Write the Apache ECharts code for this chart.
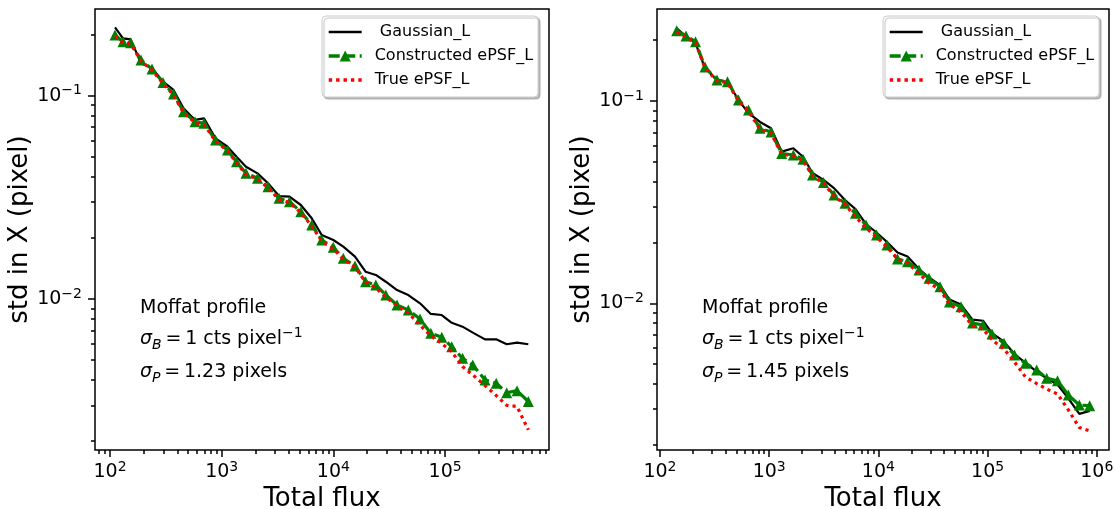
<!DOCTYPE html>
<html><head><meta charset="utf-8">
<script src="https://cdn.jsdelivr.net/npm/echarts@6/dist/echarts.min.js"></script>
<style>html,body{margin:0;padding:0;background:#fff}#c{width:1115px;height:509px}</style>
</head><body><div id="c"></div>
<script>
const FONT = 'DejaVu Sans';
const seriesNames = [' Gaussian_L', 'Constructed ePSF_L', 'True ePSF_L'];

// ---- left panel (sigma_P = 1.23) ----
const fluxLeft = [110.9, 130.7, 153.2, 189.5, 237.7, 298.3, 370.3, 455, 576.8, 694.2, 879.8, 1127, 1357, 1650, 2092, 2597, 3258, 4046, 5107, 6393, 7859, 9979, 12260, 15610, 19390, 23970, 29450, 37100, 46820, 59620, 74470, 93250, 114600, 143200, 177000, 227600, 286700, 356000, 440300, 555800];
const gaussLeft = [0.2170, 0.1916, 0.1894, 0.1443, 0.1364, 0.1172, 0.1067, 0.0867, 0.0760, 0.0774, 0.0617, 0.0561, 0.0501, 0.0447, 0.0415, 0.0371, 0.0321, 0.0319, 0.0290, 0.02494, 0.02064, 0.01951, 0.01809, 0.01615, 0.01362, 0.01313, 0.01216, 0.01107, 0.01046, 0.00952, 0.00844, 0.00834, 0.00764, 0.00731, 0.00683, 0.00633, 0.00633, 0.00599, 0.00610, 0.00599];
const constructedLeft = [0.1989, 0.1843, 0.1823, 0.1498, 0.1353, 0.1161, 0.1019, 0.0834, 0.0745, 0.0731, 0.0605, 0.0541, 0.04734, 0.04151, 0.03923, 0.03567, 0.03128, 0.03011, 0.02688, 0.02312, 0.01951, 0.01797, 0.01586, 0.01453, 0.01216, 0.01172, 0.01046, 0.00934, 0.00883, 0.00797, 0.00678, 0.00648, 0.00583, 0.00511, 0.00474, 0.00400, 0.00385, 0.00346, 0.00354, 0.00313];
const trueLeft = [0.1966, 0.1822, 0.1802, 0.1481, 0.1338, 0.1148, 0.1007, 0.0825, 0.0737, 0.0723, 0.0598, 0.0535, 0.0468, 0.0410, 0.0388, 0.0353, 0.0309, 0.0298, 0.0266, 0.02286, 0.01929, 0.01762, 0.01568, 0.01437, 0.01212, 0.01132, 0.01023, 0.00924, 0.00853, 0.00745, 0.00658, 0.00604, 0.00550, 0.00465, 0.00423, 0.00375, 0.00335, 0.00300, 0.00296, 0.00227];

// ---- right panel (sigma_P = 1.45) ----
const fluxRight = [142.2, 173.0, 211.4, 258.3, 332.7, 415.1, 523.5, 646.1, 823.8, 1039, 1302, 1663, 2040, 2492, 3143, 3921, 4944, 6171, 7697, 9608, 11990, 14960, 18470, 23540, 29060, 36660, 44780, 57080, 72720, 90770, 109700, 141300, 176300, 222400, 281600, 347700, 436700, 548300, 691600, 861000];
const gaussRight = [0.2288, 0.2088, 0.1935, 0.1456, 0.1270, 0.1241, 0.1011, 0.0872, 0.0788, 0.0733, 0.0562, 0.0584, 0.0530, 0.0441, 0.0407, 0.0371, 0.0324, 0.02924, 0.02466, 0.02239, 0.02009, 0.01783, 0.01703, 0.01477, 0.01341, 0.01231, 0.01044, 0.00986, 0.00831, 0.00820, 0.00713, 0.00646, 0.00562, 0.00507, 0.00459, 0.00426, 0.00397, 0.00339, 0.00284, 0.00294];
const constructedRight = [0.2226, 0.2096, 0.1964, 0.1473, 0.1270, 0.1245, 0.1011, 0.0903, 0.0733, 0.0703, 0.0551, 0.0541, 0.0515, 0.0431, 0.0396, 0.0343, 0.0312, 0.02786, 0.02438, 0.02176, 0.01942, 0.01656, 0.01606, 0.01461, 0.01329, 0.01208, 0.01015, 0.00962, 0.00799, 0.00781, 0.00705, 0.00634, 0.00555, 0.00505, 0.00468, 0.00426, 0.00414, 0.00352, 0.00314, 0.00312];
const trueRight = [0.2201, 0.2072, 0.1942, 0.1456, 0.1256, 0.1231, 0.1000, 0.0893, 0.0725, 0.0695, 0.0545, 0.0535, 0.0509, 0.0426, 0.0392, 0.0339, 0.0308, 0.02680, 0.02357, 0.02127, 0.01898, 0.01656, 0.01582, 0.01404, 0.01259, 0.01173, 0.00986, 0.00906, 0.00775, 0.00746, 0.00659, 0.00594, 0.00513, 0.00432, 0.00401, 0.00377, 0.00356, 0.00297, 0.00243, 0.00234];

// ---- ticks ----
const xMajorTicks = [100, 1000, 10000, 100000, 1000000];
const yMajorTicks = [0.01, 0.1];
const minorMantissas = [2, 3, 4, 5, 6, 7, 8, 9];
const xMinorTicks = [];
[1, 2, 3, 4, 5, 6].forEach(e => minorMantissas.forEach(m => xMinorTicks.push(m * Math.pow(10, e))));
const yMinorTicks = [];
[-3, -2, -1].forEach(e => minorMantissas.forEach(m => yMinorTicks.push(+(m * Math.pow(10, e)).toPrecision(3))));

// ---- texts ----
const xTitle = 'Total flux';
const yTitle = 'std in X (pixel)';
const annotLeft = ['Moffat profile', '{i|σ}{sub|B}{n|\u2009=\u20091 cts pixel}{sup|−1}', '{i|σ}{sub|P}{n|\u2009=\u20091.23 pixels}'];
const annotRight = ['Moffat profile', '{i|σ}{sub|B}{n|\u2009=\u20091 cts pixel}{sup|−1}', '{i|σ}{sub|P}{n|\u2009=\u20091.45 pixels}'];

// ---- styles ----
const lineStyles = [
  {color: '#000', width: 2.2},
  {color: '#008000', width: 3.2, type: [11, 4.5]},
  {color: '#ff0000', width: 3.2, type: [3.2, 4]}
];

// ---- layout ----
const panels = [
  {grid: {left: 95, top: 9, width: 454, height: 441}, xMin: 73.4, xMax: 851000, yMin: 0.001808, yMax: 0.2670,
   flux: fluxLeft, g: gaussLeft, c: constructedLeft, t: trueLeft, annot: annotLeft, annotX: 140, legendLeft: 322},
  {grid: {left: 657, top: 9, width: 452, height: 441}, xMin: 93.9, xMax: 1293000, yMin: 0.001883, yMax: 0.2850,
   flux: fluxRight, g: gaussRight, c: constructedRight, t: trueRight, annot: annotRight, annotX: 702, legendLeft: 883}
];

const tickRich = {
  b: {fontFamily: FONT, fontSize: 19, color: '#000', lineHeight: 24},
  s: {fontFamily: FONT, fontSize: 14, color: '#000', lineHeight: 14, verticalAlign: 'top'}
};
const powLabel = v => {
  const e = Math.round(Math.log10(v));
  return '{b|10}{s|' + String(e).replace('-', '\u2212') + '}';
};
const tickLine = {color: '#000', width: 1.5};
const hiddenSymbol = {color: 'rgba(0,0,0,0)', borderColor: 'rgba(0,0,0,0)', borderWidth: 0, opacity: 0};

const grids = [], xAxes = [], yAxes = [], series = [], legends = [], graphics = [];
panels.forEach((p, i) => {
  grids.push(Object.assign({show: true, borderColor: '#000', borderWidth: 1.5, backgroundColor: 'transparent', outerBoundsMode: 'none'}, p.grid));
  xAxes.push({
    type: 'log', gridIndex: i, min: p.xMin, max: p.xMax, position: 'bottom',
    axisLine: {show: false}, splitLine: {show: false},
    axisTick: {show: true, length: 7, lineStyle: tickLine, customValues: xMajorTicks},
    axisLabel: {customValues: xMajorTicks, formatter: powLabel, margin: 10, rich: tickRich},
    name: xTitle, nameLocation: 'middle', nameGap: 33,
    nameTextStyle: {fontFamily: FONT, fontSize: 26, color: '#000'}
  });
  xAxes.push({
    type: 'log', gridIndex: i, min: p.xMin, max: p.xMax, position: 'bottom',
    axisLine: {show: false}, splitLine: {show: false}, axisLabel: {show: false},
    axisTick: {show: true, length: 4, lineStyle: tickLine, customValues: xMinorTicks}
  });
  yAxes.push({
    type: 'log', gridIndex: i, min: p.yMin, max: p.yMax, position: 'left',
    axisLine: {show: false}, splitLine: {show: false},
    axisTick: {show: true, length: 7, lineStyle: tickLine, customValues: yMajorTicks},
    axisLabel: {customValues: yMajorTicks, formatter: powLabel, margin: 13, rich: tickRich},
    name: yTitle, nameLocation: 'middle', nameGap: 59,
    nameTextStyle: {fontFamily: FONT, fontSize: 26, color: '#000'}
  });
  yAxes.push({
    type: 'log', gridIndex: i, min: p.yMin, max: p.yMax, position: 'left',
    axisLine: {show: false}, splitLine: {show: false}, axisLabel: {show: false},
    axisTick: {show: true, length: 4, lineStyle: tickLine, customValues: yMinorTicks}
  });
  const pair = ys => p.flux.map((x, k) => [x, ys[k]]);
  series.push({name: seriesNames[0], type: 'line', xAxisIndex: 2 * i, yAxisIndex: 2 * i, data: pair(p.g),
    symbol: 'none', lineStyle: lineStyles[0], itemStyle: {color: '#000'}, z: 2, silent: true});
  series.push({name: seriesNames[1], type: 'line', xAxisIndex: 2 * i, yAxisIndex: 2 * i, data: pair(p.c),
    symbol: 'triangle', symbolSize: 11, lineStyle: lineStyles[1],
    itemStyle: {color: '#008000'}, z: 3, silent: true});
  series.push({name: seriesNames[2], type: 'line', xAxisIndex: 2 * i, yAxisIndex: 2 * i, data: pair(p.t),
    symbol: 'none', lineStyle: lineStyles[2], itemStyle: {color: '#ff0000'}, z: 4, silent: true});
  legends.push({
    left: p.legendLeft, top: 16, orient: 'vertical', selectedMode: false,
    data: [
      {name: seriesNames[0], itemStyle: hiddenSymbol, lineStyle: {color: '#000', width: 2.6, type: 'solid'}},
      {name: seriesNames[1], lineStyle: {color: '#008000', width: 3.4, type: [11, 4.5]}},
      {name: seriesNames[2], itemStyle: hiddenSymbol, lineStyle: {color: '#ff0000', width: 3.4, type: [3.4, 4]}}
    ],
    itemWidth: 33, itemHeight: 14, itemGap: 8, padding: [8, 5, 9, 5],
    backgroundColor: '#fff', borderColor: '#cccccc', borderWidth: 1, borderRadius: 4,
    shadowColor: 'rgba(0,0,0,0.25)', shadowOffsetX: 2, shadowOffsetY: 2, shadowBlur: 1,
    textStyle: {fontFamily: FONT, fontSize: 16, color: '#000', padding: [0, 0, 0, 8]}
  });
  const ys = [308, 339, 372];
  p.annot.forEach((txt, k) => {
    graphics.push({
      type: 'text', x: p.annotX, y: ys[k], silent: true,
      style: {
        text: k === 0 ? '{n|' + txt + '}' : txt, verticalAlign: 'middle', align: 'left', fill: '#000',
        rich: {
          n: {fontFamily: FONT, fontSize: 19, lineHeight: 26, fill: '#000'},
          i: {fontFamily: FONT, fontSize: 19, fontStyle: 'italic', lineHeight: 26, fill: '#000'},
          sub: {fontFamily: FONT, fontSize: 14, fontStyle: 'italic', lineHeight: 14, verticalAlign: 'bottom', fill: '#000'},
          sup: {fontFamily: FONT, fontSize: 14, lineHeight: 14, verticalAlign: 'top', fill: '#000'}
        }
      }
    });
  });
});

const chart = echarts.init(document.getElementById('c'), null, {renderer: 'canvas'});
chart.setOption({
  animation: false,
  backgroundColor: '#fff',
  textStyle: {fontFamily: FONT},
  grid: grids, xAxis: xAxes, yAxis: yAxes, series: series, legend: legends, graphic: graphics
});
</script></body></html>
